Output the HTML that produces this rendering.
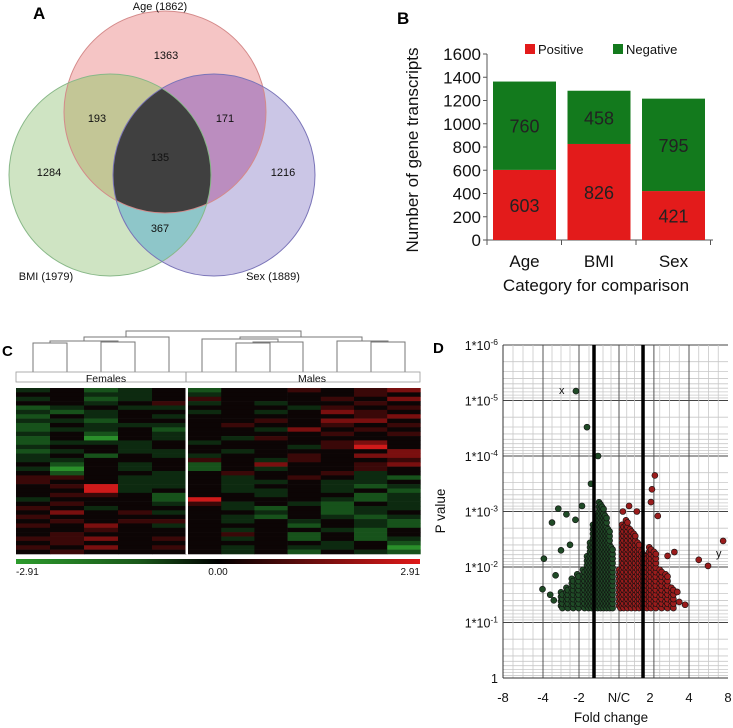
<!DOCTYPE html>
<html><head><meta charset="utf-8">
<style>
html,body{margin:0;padding:0;background:#fff;}
body{width:733px;height:728px;overflow:hidden;font-family:"Liberation Sans",Arial,sans-serif;}
svg{position:absolute;left:0;top:0;}
</style></head>
<body>
<svg id="fig" width="733" height="728" viewBox="0 0 733 728" xmlns="http://www.w3.org/2000/svg">
<defs>
<clipPath id="clipA"><circle cx="165" cy="112" r="101"/></clipPath>
<clipPath id="clipB"><circle cx="110" cy="175" r="101"/></clipPath>
<linearGradient id="cbar" x1="0" x2="1" y1="0" y2="0">
<stop offset="0" stop-color="#2c9a2c"/><stop offset="0.3" stop-color="#1a5a1a"/><stop offset="0.5" stop-color="#000"/><stop offset="0.7" stop-color="#5a0c0c"/><stop offset="1" stop-color="#e01818"/>
</linearGradient>
</defs>

<g>
<text x="33" y="19" font-size="17" font-weight="bold">A</text>
<circle cx="165" cy="112" r="101" fill="#f5c5c5"/>
<circle cx="110" cy="175" r="101" fill="#cfe4c3"/>
<circle cx="214" cy="175" r="101" fill="#cbc6e6"/>
<g clip-path="url(#clipA)"><circle cx="110" cy="175" r="101" fill="#c3c696"/>
<circle cx="214" cy="175" r="101" fill="#bb8dbf"/></g>
<g clip-path="url(#clipB)"><circle cx="214" cy="175" r="101" fill="#8ec6c9"/></g>
<g clip-path="url(#clipA)"><g clip-path="url(#clipB)"><circle cx="214" cy="175" r="101" fill="#404040"/></g></g>
<circle cx="165" cy="112" r="101" fill="none" stroke="#d48a8a" stroke-width="1"/>
<circle cx="110" cy="175" r="101" fill="none" stroke="#88b888" stroke-width="1"/>
<circle cx="214" cy="175" r="101" fill="none" stroke="#7a74b8" stroke-width="1"/>
<g font-size="11" text-anchor="middle" fill="#111">
<text x="160" y="10">Age (1862)</text>
<text x="166" y="59">1363</text>
<text x="97" y="122">193</text>
<text x="225" y="122">171</text>
<text x="160" y="161">135</text>
<text x="49" y="176">1284</text>
<text x="283" y="176">1216</text>
<text x="160" y="232">367</text>
<text x="46" y="280">BMI (1979)</text>
<text x="273" y="280">Sex (1889)</text>
</g>
</g>

<g id="panelB">
<text x="397" y="24" font-size="17" font-weight="bold">B</text>
</g>
<g id="panelC">
<text x="2" y="356" font-size="15" font-weight="bold">C</text>
</g>
<g id="panelD">
<text x="433" y="353" font-size="15" font-weight="bold">D</text>
</g>
</svg>
<script>
// ---------- Panel B data ----------
const barCategories = ["Age","BMI","Sex"];
const positiveValues = [603,826,421];
const negativeValues = [760,458,795];
const barTicks = [0,200,400,600,800,1000,1200,1400,1600];

// ---------- Panel C data ----------
const heatColumns = ["F1","F2","F3","F4","F5","M1","M2","M3","M4","M5","M6","M7"];
const heatRows = [
"C0BC0B00d0de","00CC0C0000d0","C0BC0d000d0e","00C0dC0C00d0","BC0CC000Cd0d",
"CBC00C0C0ed0","B0C0C00000de","CCB0000d0ee0","B0CCC0d00d0d","BCC0B00Ce0d0",
"C0B0C0000d0d","B0A0C0Cd0000","BCCC0C000de0","C00C0000Cdf0","BC0CC0C0000e",
"C0B0CC00d0ee","CC000d0Cd00d","0B0C0B0e00de","CA0C0B0C00d0","0B00C0d00dC0",
"dd0CC0C0d0CB","d00CC0CC0CC0","0dfCC0C00CBC","00fC00CC0C0B","0dd0B00C00BC",
"C000Bf000CBC","0d00CdC0CB0C","d0C000CB0BCC","0e0dC00C0BC0","d00000CB0CBC",
"0d0dd0C0C0CB","d0e0C000B0CB","00d000C00CB0","0d0000d0B0B0","dde0d0C0B0BC",
"0d0000000C0B","d0e0d0C0CC0A","0d0000C0B0CB"];
const heatLevel = {A:-3,B:-2,C:-1,"0":0,d:1,e:2,f:3};
const colorbarLabels = ["-2.91","0.00","2.91"];

// ---------- Panel D data (fold change, -log10 p) ----------
const negBinFC  = [-3.0,-2.7,-2.4,-2.1,-1.8,-1.6,-1.45,-1.3,-1.15,-1.0,-0.85,-0.7,-0.55,-0.4];
const negBinTop = [1.6,1.7,1.8,1.9,2.0,2.2,2.5,2.8,3.0,3.2,3.1,3.0,2.7,2.4];
const posBinFC  = [0.0,0.2,0.45,0.7,0.95,1.2,1.45,1.7,1.95,2.2,2.5,2.8,3.1];
const posBinTop = [2.0,2.8,2.9,2.7,2.6,2.5,2.3,2.2,2.4,2.3,2.0,1.9,1.7];
const negOutFC = [-2.17,-1.6,-1.05,-1.4,-3.15,-3.5,-2.7,-2.2,-1.85,-4.05,-3.6,-3.4,-3.95,-3.3,-3.0,-2.5];
const negOutP  = [5.17,4.52,4.0,3.5,3.05,2.8,2.95,2.85,3.1,1.6,1.5,1.4,2.15,1.85,2.3,2.4];
const posOutFC = [2.25,2.1,2.05,2.4,0.65,1.15,0.25,7.5,5.0,5.95,3.25,3.8,3.5,3.4,2.9];
const posOutP  = [3.65,3.4,3.17,2.92,3.1,3.0,3.0,2.47,2.13,2.02,2.27,1.32,1.37,1.55,2.2];
const fcTickLabels = ["-8","-4","-2","N/C","2","4","8"];
const fcTickValues = [-8,-4,-2,0,2,4,8];
const pTickExp = [-6,-5,-4,-3,-2,-1,0];

const NS="http://www.w3.org/2000/svg";
function mk(parent,tag,attrs,text){const e=document.createElementNS(NS,tag);for(const k in attrs)e.setAttribute(k,attrs[k]);if(text!==undefined)e.textContent=text;parent.appendChild(e);return e;}

// ===== Panel B =====
(function(){
const g=document.getElementById('panelB');
const y0=240,y1=54,vmax=1600;
const yS=v=>y0-(v/vmax)*(y0-y1);
const xL=487,step=74.5,bw=63;
const xS=i=>xL+6+i*step;
mk(g,'line',{x1:xL,y1:y1,x2:xL,y2:y0,stroke:'#555'});
mk(g,'line',{x1:xL,y1:y0,x2:713,y2:y0,stroke:'#555'});
barTicks.forEach(t=>{
 mk(g,'line',{x1:xL-4,y1:yS(t),x2:xL,y2:yS(t),stroke:'#555'});
 const tl=mk(g,'text',{x:xL-6,y:yS(t)+6,'font-size':17,'text-anchor':'end',fill:'#111'},String(t));
 
 
});
for(let i=0;i<=3;i++){mk(g,'line',{x1:xL+i*step,y1:y0,x2:xL+i*step,y2:y0+5,stroke:'#555'});}
barCategories.forEach((c,i)=>{
 const p=positiveValues[i],n=negativeValues[i];
 const rp=mk(g,'rect',{x:xS(i),y:yS(p),width:bw,height:y0-yS(p),fill:'#e31b1b'});
 
 
 const rn=mk(g,'rect',{x:xS(i),y:yS(p+n),width:bw,height:yS(p)-yS(p+n),fill:'#137a1d'});
 
 
 const t1=mk(g,'text',{x:xS(i)+bw/2,y:(yS(p)+y0)/2+7,'font-size':18,'text-anchor':'middle',fill:'#222'},String(p));
 
 
 const t2=mk(g,'text',{x:xS(i)+bw/2,y:(yS(p)+yS(p+n))/2+7,'font-size':18,'text-anchor':'middle',fill:'#222'},String(n));
 
 
 const cl=mk(g,'text',{x:xS(i)+bw/2,y:267,'font-size':17,'text-anchor':'middle',fill:'#111'},c);
 
 
});
const xt=mk(g,'text',{x:596,y:291,'font-size':17,'text-anchor':'middle',fill:'#111'},'Category for comparison');


const yt=mk(g,'text',{x:0,y:0,'font-size':17,'text-anchor':'middle',fill:'#111',transform:'translate(418,150) rotate(-90)'},'Number of gene transcripts');


const l1=mk(g,'rect',{x:525,y:44,width:10,height:10,fill:'#e31b1b'});


const l1t=mk(g,'text',{x:538,y:54,'font-size':13,fill:'#111'},'Positive');


const l2=mk(g,'rect',{x:613,y:44,width:10,height:10,fill:'#137a1d'});


const l2t=mk(g,'text',{x:626,y:54,'font-size':13,fill:'#111'},'Negative');


})();

// ===== Panel C =====
(function(){
const g=document.getElementById('panelC');
const cx=[33,67,101,135,169,202,236,270,303,337,371,405];
const st='#777';
function U(xa,xb,y,ya,yb){mk(g,'path',{d:`M${xa},${ya}V${y}H${xb}V${yb}`,fill:'none',stroke:st,'stroke-width':1});}
const lb=372;
U(cx[0],cx[1],343,lb,lb);
U(cx[2],cx[3],342,lb,lb);
U(50,118,341,343,342);
U(84,cx[4],337,341,lb);
U(cx[6],cx[7],343,lb,lb);
U(253,cx[8],342,343,lb);
U(cx[5],278,339,lb,342);
U(cx[10],cx[11],342,lb,lb);
U(cx[9],388,341,lb,342);
U(240,362,337,339,341);
U(126,301,331,337,337);
const gb=mk(g,'rect',{x:16,y:372,width:404,height:10,fill:'#fff',stroke:'#999','stroke-width':0.8});


mk(g,'line',{x1:186,y1:372,x2:186,y2:382,stroke:'#999'});
const ft=mk(g,'text',{x:106,y:382,'font-size':10.5,'text-anchor':'middle',fill:'#111'},'Females');


const mt=mk(g,'text',{x:312,y:382,'font-size':10.5,'text-anchor':'middle',fill:'#111'},'Males');


const top=388,bot=554,rh=(bot-top)/heatRows.length;
const palette={"-3":"#2a8f2a","-2":"#17521b","-1":"#0d2a10","0":"#0c0505","1":"#3a0808","2":"#7a0f0f","3":"#cf1a1a"};
heatRows.forEach((row,r)=>{
 for(let c=0;c<heatColumns.length;c++){
  const v=heatLevel[row[c]];
  const x= c<5 ? 16+c*34 : 188+(c-5)*33.2;
  const w= c<5 ? 34 : 33.2;
  const cell=mk(g,'rect',{x:x,y:top+r*rh,width:w+0.3,height:rh+0.3,fill:palette[String(v)]});
  
  
 }
});
mk(g,'rect',{x:185.5,y:top,width:2.5,height:bot-top,fill:'#fff'});
const cb=mk(g,'rect',{x:16,y:559,width:404,height:5,fill:'url(#cbar)'});


const pos=[[16,'start'],[218,'middle'],[420,'end']];
colorbarLabels.forEach((s,i)=>{
 const t=mk(g,'text',{x:pos[i][0],y:575,'font-size':10,'text-anchor':pos[i][1],fill:'#111'},s);
 
 
});
})();

// ===== Panel D =====
(function(){
const g=document.getElementById('panelD');
const L=503,R=728,T=345,B=678;
const knF=[-8,-4,-2,0,2,4,8], knX=[503,543,579,619,650,689,728];
function xS(f){f=Math.max(-8,Math.min(8,f));for(let i=0;i<knF.length-1;i++){if(f<=knF[i+1]){return knX[i]+(f-knF[i])/(knF[i+1]-knF[i])*(knX[i+1]-knX[i]);}}return R;}
const dec=(B-T)/6;
const yS=lp=>B-lp*dec;
mk(g,'rect',{x:L,y:T,width:R-L,height:B-T,fill:'#fff'});
for(let d=0;d<6;d++){for(let m=2;m<10;m++){const lp=d+1-Math.log10(m);mk(g,'line',{x1:L,x2:R,y1:yS(lp),y2:yS(lp),stroke:'#c8c8c8','stroke-width':0.8});}}
pTickExp.forEach(e=>{mk(g,'line',{x1:L,x2:R,y1:yS(-e),y2:yS(-e),stroke:'#444','stroke-width':1});});
[-7,-6,-5,-3,-3.5,-2.5,-1.5,-0.8,-0.4,0.5,1,2.5,3,3.5,5,6,7].forEach(f=>mk(g,'line',{x1:xS(f),x2:xS(f),y1:T,y2:B,stroke:'#c8c8c8','stroke-width':0.8}));
[-4,-2,0,2.2,4].forEach(f=>mk(g,'line',{x1:xS(f),x2:xS(f),y1:T,y2:B,stroke:'#555','stroke-width':1}));
mk(g,'line',{x1:L,x2:L,y1:T,y2:B,stroke:'#333'});
mk(g,'line',{x1:L,x2:R,y1:B,y2:B,stroke:'#333'});
function dot(f,lp,fill,name){const c=mk(g,'circle',{cx:xS(f),cy:yS(lp),r:3,fill:fill,stroke:'#111','stroke-width':0.6});}
const base=-Math.log10(0.05);
const GC='#1f4a26', RC='#9a1c1c';
function binCloud(fcs,tops,fill,name,wfc){
 fcs.forEach((f,i)=>{
  const yb=yS(base),yt=yS(tops[i]);
  for(let y=yb;y>=yt;y-=4.5){const lp=(B-y)/dec;dot(f,lp,fill,name);dot(f+wfc,lp-0.04,fill,name);}
 });
}
binCloud(negBinFC,negBinTop,GC,'negative-point',0.08);
binCloud(posBinFC,posBinTop,RC,'positive-point',0.1);
negOutFC.forEach((f,i)=>dot(f,negOutP[i],GC,'negative-point'));
posOutFC.forEach((f,i)=>dot(f,posOutP[i],RC,'positive-point'));
[-1.25,1.55].forEach(f=>{const l=mk(g,'line',{x1:xS(f),x2:xS(f),y1:T,y2:B,stroke:'#000','stroke-width':3.5});});
mk(g,'text',{x:559,y:394,'font-size':11,fill:'#111'},'x');
mk(g,'text',{x:716,y:557,'font-size':11,fill:'#111'},'y');
fcTickValues.forEach((f,i)=>{const t=mk(g,'text',{x:xS(f),y:702,'font-size':13,'text-anchor':'middle',fill:'#111'},fcTickLabels[i]);});
pTickExp.forEach(e=>{
 const t=mk(g,'text',{x:498,y:yS(-e)+5,'font-size':12.5,'text-anchor':'end',fill:'#111'});
 
 
 if(e===0){t.textContent='1';}
 else{t.appendChild(document.createTextNode('1*10'));const s=document.createElementNS(NS,'tspan');s.setAttribute('dy','-5');s.setAttribute('font-size','8.5');s.textContent=String(e);t.appendChild(s);}
});
const xt=mk(g,'text',{x:611,y:722,'font-size':13.5,'text-anchor':'middle',fill:'#111'},'Fold change');


const yt=mk(g,'text',{x:0,y:0,'font-size':13.5,'text-anchor':'middle',fill:'#111',transform:'translate(445,511) rotate(-90)'},'P value');


})();
</script>
</body></html>
